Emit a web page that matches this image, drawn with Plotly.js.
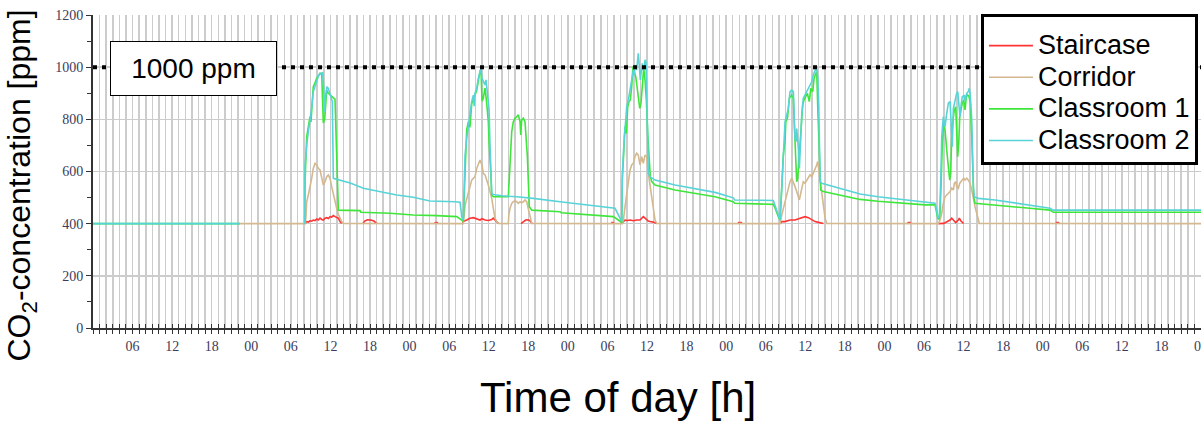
<!DOCTYPE html>
<html>
<head>
<meta charset="utf-8">
<script src="https://cdn.plot.ly/plotly-3.0.1.min.js"></script>
<style>
  html, body { margin: 0; padding: 0; background: #ffffff; }
  #chart { width: 1201px; height: 424px; }
</style>
</head>
<body>
<div id="chart"></div>
<script>
// ---- Data: [hour of week, CO2 ppm]; null = no visible line ----
const seriesNames = ["Staircase", "Corridor", "Classroom 1", "Classroom 2"];
const seriesColors = ["#ff3535", "#d4b890", "#3ee63a", "#58d4d8"];

const staircase = [
  [32.15,400],[32.25,402],[32.40,408],[32.65,406],[32.90,411],[33.16,410],[33.40,414],[33.66,412],[33.92,418],[34.16,414],[34.42,421],[34.68,416],[34.92,414],[35.18,421],[35.44,423],[35.68,420],[35.94,427],[36.19,425],[36.44,431],[36.69,427],[36.95,425],[37.20,421],[37.45,408],[37.71,401],[37.75,null],
  [40.9,400],[41.2,410],[41.6,415],[42.1,414],[42.6,410],[43.0,400],[43.05,null],
  [51.8,402],[51.9,404],[52.2,404],[52.3,402],[52.35,null],
  [56.06,400],[56.15,408],[56.66,414],[57.16,421],[57.67,423],[58.18,418],[58.68,414],[58.98,419],[59.44,414],[59.94,412],[60.46,416],[60.70,421],[60.96,414],[61.21,408],[61.46,401],[61.5,null],
  [64.9,400],[65.25,408],[65.6,414],[66.0,415],[66.3,410],[66.6,400],[66.65,null],
  [78.6,402],[78.7,404],[78.9,404],[79.0,402],[79.05,null],
  [80.17,400],[80.26,404],[80.42,408],[80.67,414],[81.0,412],[81.43,414],[81.9,411],[82.44,414],[82.94,414],[83.20,421],[83.44,427],[83.70,421],[83.96,414],[84.20,410],[84.46,408],[84.96,406],[85.47,401],[85.5,null],
  [97.8,402],[97.9,404],[98.3,404],[98.4,402],[98.45,null],
  [104.17,400],[104.43,408],[104.9,408],[105.69,414],[106.44,414],[107.46,421],[107.96,427],[108.46,423],[108.98,414],[109.48,408],[110.0,405],[110.74,401],[110.8,null],
  [123.5,402],[123.6,404],[123.9,404],[124.0,402],[124.05,null],
  [128.17,400],[129.0,401],[129.95,414],[130.20,421],[130.45,414],[130.8,404],[131.21,414],[131.36,421],[131.6,410],[132.0,401],[132.05,null],
  [146.0,402],[146.1,404],[146.4,404],[146.5,402]
];

const corridor = [
  [22.3,400],[32.20,400],[32.30,433],[32.40,484],[32.65,510],[32.90,536],[33.16,574],[33.40,612],[33.66,631],[33.92,625],[34.16,612],[34.42,606],[34.68,574],[34.92,548],[35.18,561],[35.44,580],[35.68,587],[35.94,574],[36.19,542],[36.44,510],[36.69,484],[36.95,459],[37.20,436],[37.45,421],[37.71,408],[37.95,401],
  [56.15,400],[56.41,470],[56.66,497],[56.91,523],[57.16,548],[57.42,567],[57.67,574],[57.92,580],[58.18,612],[58.42,625],[58.68,644],[58.98,625],[59.18,593],[59.44,587],[59.70,561],[59.94,548],[60.20,523],[60.46,497],[60.70,459],[60.96,421],[61.21,408],[61.46,401],
  [62.97,400],[63.05,433],[63.23,459],[63.49,478],[63.73,484],[63.99,487],[64.25,484],[64.49,478],[64.75,484],[65.00,480],[65.25,484],[65.50,491],[65.76,484],[66.01,452],[66.26,421],[66.52,401],
  [80.26,400],[80.42,414],[80.67,465],[80.92,516],[81.17,567],[81.43,606],[81.68,625],[81.93,631],[82.18,657],[82.44,670],[82.68,663],[82.94,625],[83.20,657],[83.44,631],[83.70,663],[83.96,657],[84.20,593],[84.46,542],[84.72,503],[84.96,452],[85.22,414],[85.47,401],
  [104.17,400],[104.43,433],[104.67,459],[104.93,484],[105.19,510],[105.43,536],[105.69,561],[105.94,574],[106.19,561],[106.44,542],[106.70,523],[106.95,503],[107.10,491],[107.25,510],[107.46,536],[107.70,561],[107.96,555],[108.22,567],[108.46,574],[108.72,587],[108.98,580],[109.22,593],[109.48,612],[109.73,625],[109.89,638],[110.04,610],[110.24,561],[110.49,510],[110.74,459],[111.00,421],[111.25,401],
  [128.17,400],[128.43,414],[128.69,440],[128.93,478],[129.19,503],[129.45,510],[129.69,516],[129.95,523],[130.20,536],[130.45,529],[130.60,555],[130.81,561],[130.96,542],[131.21,536],[131.42,555],[131.61,561],[131.81,567],[132.02,574],[132.22,567],[132.48,574],[132.72,567],[132.98,555],[133.24,529],[133.48,491],[133.74,465],[133.99,440],[134.24,408],[134.39,401],
  [168.5,400]
];

const classroom1 = [
  [0,400],[22.3,400],[22.35,null],
  [32.1,400],[32.15,560],[32.40,733],[32.65,780],[32.90,810],[33.05,790],[33.40,925],[33.66,940],[33.92,958],[34.15,965],[34.42,977],[34.68,975],[34.92,786],[35.13,800],[35.28,880],[35.44,912],[35.68,900],[35.94,893],[36.19,885],[36.44,882],[36.69,878],[36.90,700],[37.05,520],[37.20,452],[40.49,450],[40.6,444],[45.03,440],[48.57,433],[52.12,431],[55.15,427],[55.91,414],[56.06,410],
  [56.15,414],[56.41,600],[56.66,760],[56.91,791],[57.16,770],[57.42,860],[57.67,880],[57.92,893],[58.18,910],[58.42,950],[58.68,985],[58.83,990],[58.98,870],[59.18,881],[59.44,920],[59.70,860],[59.94,791],[60.05,714],[60.20,663],[60.30,600],[60.46,510],[60.70,503],[62.97,503],[63.10,560],[63.23,663],[63.49,753],[63.73,791],[63.99,804],[64.25,810],[64.49,817],[64.75,791],[64.85,740],[65.00,797],[65.25,804],[65.50,791],[65.76,714],[65.85,663],[66.01,561],[66.16,465],[66.52,452],[70.81,446],[71.0,442],[74.5,436],[78.89,427],[79.65,414],[80.17,404],
  [80.26,567],[80.48,682],[80.67,772],[80.86,746],[81.08,848],[81.27,868],[81.47,874],[81.68,925],[81.88,1002],[82.08,983],[82.29,964],[82.49,925],[82.68,893],[82.90,842],[83.09,862],[83.29,925],[83.50,996],[83.70,951],[83.90,874],[84.11,746],[84.31,670],[84.50,580],[84.72,561],[85.22,548],[88.25,529],[91.02,516],[94.31,503],[97.09,484],[97.3,478],[103.15,474],[103.41,460],[104.0,421],[104.17,414],
  [104.43,536],[104.67,663],[104.93,714],[105.05,791],[105.3,805],[105.58,881],[105.94,893],[106.19,881],[106.34,778],[106.49,663],[106.70,561],[106.85,575],[107.01,638],[107.20,689],[107.40,791],[107.61,855],[107.81,874],[108.05,885],[108.31,900],[108.61,868],[108.83,919],[109.13,906],[109.33,957],[109.5,970],[109.73,983],[109.93,817],[110.13,663],[110.34,529],[110.74,523],[113.27,510],[116.3,493],[119.03,486],[122.06,480],[126.16,472],[127.67,472],[128.08,421],[128.30,416],
  [128.43,440],[128.58,542],[128.78,708],[128.99,785],[129.19,759],[129.49,670],[129.69,606],[129.90,567],[130.05,593],[130.20,733],[130.40,797],[130.60,836],[130.81,848],[130.96,733],[131.11,657],[131.27,708],[131.42,810],[131.61,836],[131.81,862],[132.02,874],[132.22,836],[132.42,887],[132.63,893],[132.83,887],[133.02,862],[133.24,733],[133.39,606],[133.54,503],[133.74,478],[136.77,472],[139.04,466],[141.62,460],[145.11,452],[145.61,444],[168.5,444]
];

const classroom2 = [
  [0,400],[22.3,400],[22.35,null],
  [32.1,400],[32.15,625],[32.49,721],[32.80,778],[33.01,804],[33.21,855],[33.40,906],[33.62,925],[33.81,938],[34.01,957],[34.22,970],[34.42,973],[34.68,977],[34.83,980],[34.98,919],[35.13,829],[35.28,893],[35.48,925],[35.68,919],[35.89,900],[36.09,881],[36.29,868],[36.44,574],[36.95,570],[39.0,556],[40.99,536],[43.52,523],[46.05,510],[48.57,501],[51.10,487],[54.89,484],[55.65,482],[55.91,427],[56.06,414],
  [56.15,420],[56.41,663],[56.66,727],[56.91,778],[57.16,810],[57.42,868],[57.67,893],[57.80,850],[57.92,900],[58.18,919],[58.42,957],[58.68,989],[58.83,996],[58.98,957],[59.18,944],[59.44,932],[59.59,951],[59.79,906],[59.94,881],[60.05,840],[60.20,700],[60.30,600],[60.46,516],[60.70,512],[62.0,507],[64.25,503],[66.76,497],[70.81,484],[73.5,476],[76.87,466],[78.89,459],[79.15,459],[79.91,421],[80.17,408],
  [80.26,593],[80.42,682],[80.56,733],[80.77,797],[80.92,848],[81.17,874],[81.43,912],[81.68,951],[81.93,989],[82.08,970],[82.18,1008],[82.44,989],[82.59,1040],[82.68,1053],[82.84,1002],[82.99,951],[83.09,975],[83.29,1015],[83.44,989],[83.59,996],[83.70,1028],[83.85,1020],[83.96,900],[84.11,721],[84.20,593],[84.46,580],[85.22,567],[88.25,548],[91.02,536],[94.31,520],[97.09,499],[97.3,491],[103.15,489],[103.41,472],[104.17,414],
  [104.43,536],[104.67,689],[104.93,791],[105.19,817],[105.43,842],[105.69,906],[105.94,912],[106.19,906],[106.34,800],[106.44,727],[106.60,714],[106.70,765],[106.95,689],[107.10,612],[107.31,727],[107.46,817],[107.70,881],[107.96,893],[108.22,906],[108.46,919],[108.72,932],[108.98,944],[109.22,970],[109.48,989],[109.73,1002],[109.89,957],[110.04,855],[110.15,700],[110.24,561],[110.49,555],[113.27,536],[116.3,514],[119.03,503],[122.06,495],[124.03,487],[127.42,480],[127.67,478],[127.93,452],[128.08,427],[128.30,420],
  [128.43,478],[128.58,606],[128.69,733],[128.93,810],[129.19,772],[129.45,823],[129.69,862],[129.95,868],[130.10,800],[130.29,695],[130.45,842],[130.70,874],[130.96,900],[131.11,906],[131.30,850],[131.46,810],[131.65,860],[131.81,887],[132.12,893],[132.22,870],[132.48,900],[132.72,906],[132.87,919],[133.02,890],[133.24,797],[133.33,670],[133.48,542],[133.63,503],[134.24,497],[136.77,491],[139.04,482],[141.62,470],[144.5,460],[145.11,459],[145.61,452],[168.5,452]
];

const thresholdPpm = 1000;
const thresholdLabel = "1000 ppm";
const weekSpan = [0, 168];

const tickHours = [6,12,18,24,30,36,42,48,54,60,66,72,78,84,90,96,102,108,114,120,126,132,138,144,150,156,162,168];
const tickLabels = ["06","12","18","00","06","12","18","00","06","12","18","00","06","12","18","00","06","12","18","00","06","12","18","00","06","12","18","00"];
const yTicks = [0,200,400,600,800,1000,1200];

// ---- Build traces ----
const legendTextPx = 27;
const allSeries = [staircase, corridor, classroom1, classroom2];
const traces = allSeries.map((s, i) => ({
  type: "scatter",
  mode: "lines",
  name: '<span style="font-size:' + legendTextPx + 'px">' + seriesNames[i] + '</span>',
  x: s.map(p => p[0]),
  y: s.map(p => p[1]),
  connectgaps: false,
  line: { color: seriesColors[i], width: 1.6 },
  xaxis: "x",
  yaxis: "y"
}));

traces.push({
  type: "scatter",
  mode: "lines",
  x: weekSpan,
  y: [thresholdPpm, thresholdPpm],
  xaxis: "x2",
  yaxis: "y",
  showlegend: false,
  hoverinfo: "skip",
  line: { color: "#000000", width: 4, dash: "4px,5px" }
});

const tickFont = { family: "Liberation Serif, Times New Roman, serif", size: 14, color: "#3c3c5a" };
const gridC = "#cccccc";

const layout = {
  width: 1201,
  height: 424,
  margin: { l: 93, r: 0, t: 15, b: 96, autoexpand: false },
  paper_bgcolor: "#ffffff",
  plot_bgcolor: "#ffffff",
  showlegend: true,
  xaxis: {
    range: [0, 168],
    tickmode: "array",
    tickvals: tickHours,
    ticktext: tickLabels,
    ticklabeloverflow: "allow",
    ticks: "outside",
    ticklen: 4,
    tickwidth: 1,
    tickcolor: "#333333",
    tickfont: tickFont,
    showgrid: true,
    gridcolor: gridC,
    gridwidth: 1.5,
    minor: { tickmode: "linear", tick0: 0, dtick: 1, ticks: "outside", ticklen: 4, tickwidth: 1, tickcolor: "#333333", showgrid: true, gridcolor: gridC, gridwidth: 1.5 },
    showline: true,
    linecolor: "#333333",
    linewidth: 2,
    zeroline: false,
    fixedrange: true
  },
  xaxis2: {
    range: [0, 168],
    overlaying: "x",
    anchor: "y",
    side: "bottom",
    tickmode: "array",
    tickvals: tickHours,
    ticks: "inside",
    ticklen: 4,
    tickwidth: 1,
    tickcolor: "#333333",
    showticklabels: false,
    showgrid: false,
    showline: false,
    zeroline: false,
    minor: { tickmode: "linear", tick0: 0, dtick: 1, ticks: "inside", ticklen: 4, tickwidth: 1, tickcolor: "#333333", showgrid: false }
  },
  yaxis: {
    range: [0, 1200],
    tickmode: "array",
    tickvals: yTicks,
    ticks: "outside",
    ticklen: 5,
    tickwidth: 1,
    tickcolor: "#333333",
    tickfont: tickFont,
    showgrid: true,
    gridcolor: gridC,
    gridwidth: 1.5,
    minor: { tickmode: "linear", tick0: 0, dtick: 100, ticks: "outside", ticklen: 4, tickwidth: 1, tickcolor: "#333333", showgrid: false },
    showline: true,
    linecolor: "#333333",
    linewidth: 2,
    zeroline: false,
    fixedrange: true
  },
  legend: {
    x: 0.8014,
    xanchor: "left",
    y: 1.003,
    yanchor: "top",
    bgcolor: "#ffffff",
    bordercolor: "#000000",
    borderwidth: 3,
    font: { family: "Liberation Sans, Arial, sans-serif", size: 22, color: "#000000" },
    title: { text: " ", font: { size: 6, color: "#ffffff" } },
    itemwidth: 44,
    tracegroupgap: 0
  },
  annotations: [
    {
      text: thresholdLabel,
      xref: "paper", yref: "paper",
      x: 0.0907, y: 0.829,
      xanchor: "center", yanchor: "middle",
      showarrow: false,
      bgcolor: "#ffffff",
      bordercolor: "#000000",
      borderwidth: 1,
      borderpad: 0,
      width: 165,
      height: 53,
      font: { family: "Liberation Sans, Arial, sans-serif", size: 28, color: "#000000" }
    },
    {
      text: "CO<sub>2</sub>-concentration [ppm]",
      xref: "paper", yref: "paper",
      x: -0.0641, y: 0.455,
      xanchor: "center", yanchor: "middle",
      textangle: -90,
      showarrow: false,
      font: { family: "Liberation Sans, Arial, sans-serif", size: 32, color: "#000000" }
    },
    {
      text: "Time of day [h]",
      xref: "paper", yref: "paper",
      x: 0.4734, y: -0.2236,
      xanchor: "center", yanchor: "middle",
      showarrow: false,
      font: { family: "Liberation Sans, Arial, sans-serif", size: 42, color: "#000000" }
    }
  ]
};

Plotly.newPlot("chart", traces, layout, { displayModeBar: false, staticPlot: true });
</script>
</body>
</html>
